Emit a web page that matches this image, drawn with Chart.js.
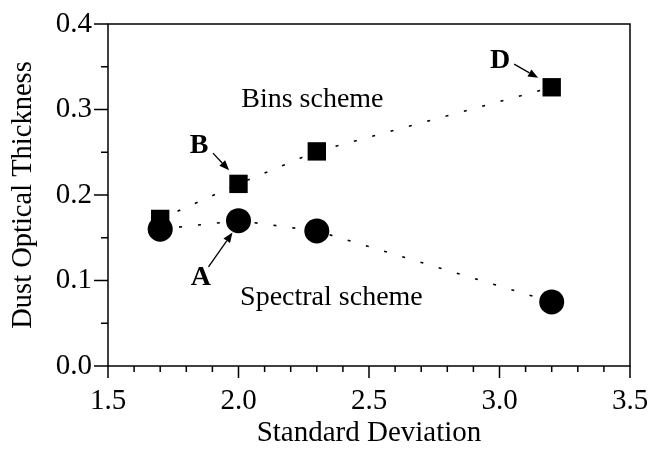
<!DOCTYPE html>
<html>
<head>
<meta charset="utf-8">
<script src="https://cdn.jsdelivr.net/npm/chart.js@4"></script>
<style>
  body { margin: 0; background: #fff; }
  #wrap { width: 649px; height: 449px; }
</style>
</head>
<body>
<div id="wrap"><canvas id="myChart"></canvas></div>
<script>
// data
let sigma = [1.7, 2.0, 2.3, 3.2];
let binsTau = [0.172, 0.213, 0.251, 0.326];
let spectralTau = [0.160, 0.170, 0.158, 0.075];

let xTicks = [1.5, 2.0, 2.5, 3.0, 3.5];
let yTicks = [0.0, 0.1, 0.2, 0.3, 0.4];

// text notes (data units, baseline)
let noteText = ['Bins scheme', 'Spectral scheme', 'B', 'A', 'D'];
let noteX = [2.283, 2.356, 1.849, 1.856, 3.002];
let noteY = [0.303, 0.0713, 0.249, 0.0947, 0.3485];
let noteBold = [false, false, true, true, true];

// arrows: tail -> tip
let arrowX0 = [1.902, 1.885, 3.056];
let arrowY0 = [0.249, 0.116, 0.353];
let arrowX1 = [1.964, 1.977, 3.148];
let arrowY1 = [0.229, 0.156, 0.337];

const serif = '"Liberation Serif", "Times New Roman", serif';

let pts = (ys) => sigma.map((x, i) => ({x: x, y: ys[i]}));

let noPad = (s) => { s.paddingLeft = 0; s.paddingRight = 0; s.paddingTop = 0; s.paddingBottom = 0; };

let frame = {
    id: 'frame',
    afterDatasetsDraw(chart) {
        let ctx = chart.ctx;
        let a = chart.chartArea;
        let xs = chart.scales.x, ys = chart.scales.y;
        ctx.save();
        ctx.strokeStyle = '#000';
        ctx.lineWidth = 1.5;
        ctx.strokeRect(a.left, a.top, a.right - a.left, a.bottom - a.top);
        ctx.beginPath();
        // y ticks
        for (let v = 0; v <= 0.4001; v += 0.05) {
            let p = ys.getPixelForValue(v);
            let major = Math.round(v * 100) % 10 === 0;
            ctx.moveTo(a.left, p);
            ctx.lineTo(a.left - (major ? 14 : 7), p);
        }
        // x ticks
        for (let v = 1.5; v <= 3.5001; v += 0.1) {
            let p = xs.getPixelForValue(v);
            let major = Math.round(v * 10) % 5 === 0;
            ctx.moveTo(p, a.bottom);
            ctx.lineTo(p, a.bottom + (major ? 12 : 6));
        }
        ctx.stroke();

        // notes
        ctx.fillStyle = '#000';
        ctx.textAlign = 'center';
        ctx.textBaseline = 'alphabetic';
        for (let i = 0; i < noteText.length; i++) {
            ctx.font = (noteBold[i] ? 'bold 28px ' : '28px ') + serif;
            ctx.fillText(noteText[i], xs.getPixelForValue(noteX[i]), ys.getPixelForValue(noteY[i]));
        }

        // arrows
        ctx.lineWidth = 1.3;
        for (let i = 0; i < arrowX0.length; i++) {
            let x0 = xs.getPixelForValue(arrowX0[i]), y0 = ys.getPixelForValue(arrowY0[i]);
            let x1 = xs.getPixelForValue(arrowX1[i]), y1 = ys.getPixelForValue(arrowY1[i]);
            let ang = Math.atan2(y1 - y0, x1 - x0);
            let len = 10, w = 4;
            let bx = x1 - len * Math.cos(ang), by = y1 - len * Math.sin(ang);
            ctx.beginPath();
            ctx.moveTo(x0, y0);
            ctx.lineTo(bx, by);
            ctx.stroke();
            ctx.beginPath();
            ctx.moveTo(x1, y1);
            ctx.lineTo(bx + w * Math.sin(ang), by - w * Math.cos(ang));
            ctx.lineTo(bx - w * Math.sin(ang), by + w * Math.cos(ang));
            ctx.closePath();
            ctx.fill();
        }
        ctx.restore();
    }
};

let ctx = document.getElementById('myChart').getContext('2d');
let myChart = new Chart(ctx, {
    type: 'scatter',
    data: {
        datasets: [{
            label: 'Spectral scheme',
            data: pts(spectralTau),
            showLine: true,
            borderColor: '#000',
            borderWidth: 1.6,
            borderDash: [3, 16],
            backgroundColor: '#000',
            pointStyle: 'circle',
            pointRadius: 12.5,
            pointBorderWidth: 0
        }, {
            label: 'Bins scheme',
            data: pts(binsTau),
            showLine: true,
            borderColor: '#000',
            borderWidth: 1.6,
            borderDash: [3, 16],
            backgroundColor: '#000',
            pointStyle: 'rect',
            pointRadius: 13,
            pointBorderWidth: 0
        }]
    },
    options: {
        responsive: true,
        maintainAspectRatio: false,
        animation: false,
        events: [],
        layout: { padding: { left: 0, top: 24, right: 19, bottom: 0 } },
        plugins: { legend: { display: false }, tooltip: { enabled: false } },
        scales: {
            x: {
                type: 'linear',
                min: 1.5,
                max: 3.5,
                afterBuildTicks: (s) => { s.ticks = xTicks.map(v => ({value: v})); },
                afterFit: (s) => { s.height = 83; noPad(s); },
                grid: { display: false, drawTicks: false },
                border: { display: false },
                ticks: {
                    padding: 18,
                    maxRotation: 0,
                    color: '#000',
                    font: { family: serif, size: 29 },
                    callback: (v) => Number(v).toFixed(1)
                },
                title: {
                    display: true,
                    text: 'Standard Deviation',
                    color: '#000',
                    font: { family: serif, size: 29, lineHeight: 1.1 },
                    padding: 0
                }
            },
            y: {
                type: 'linear',
                min: 0,
                max: 0.4,
                afterBuildTicks: (s) => { s.ticks = yTicks.map(v => ({value: v})); },
                afterFit: (s) => { s.width = 108; noPad(s); },
                grid: { display: false, drawTicks: false },
                border: { display: false },
                ticks: {
                    padding: 16,
                    color: '#000',
                    font: { family: serif, size: 29 },
                    callback: (v) => Number(v).toFixed(1)
                },
                title: {
                    display: true,
                    text: 'Dust Optical Thickness',
                    color: '#000',
                    font: { family: serif, size: 28.5, lineHeight: 1.1 },
                    padding: { top: 8, bottom: 0 }
                }
            }
        }
    },
    plugins: [frame]
});
</script>
</body>
</html>
